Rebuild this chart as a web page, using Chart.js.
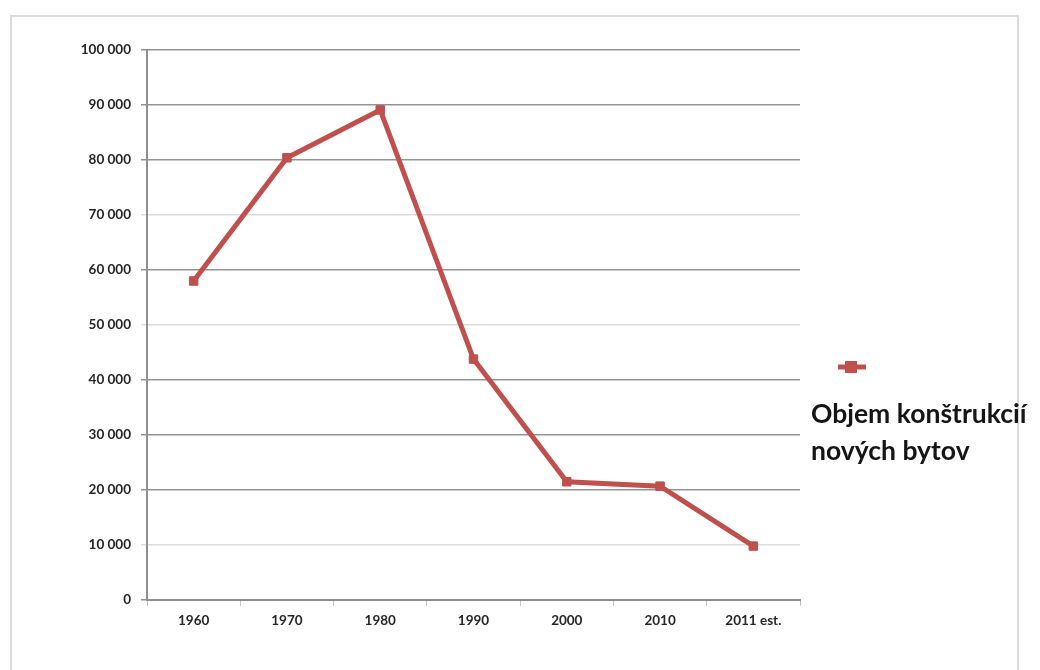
<!DOCTYPE html>
<html>
<head>
<meta charset="utf-8">
<script src="https://cdn.jsdelivr.net/npm/chart.js@4/dist/chart.umd.min.js"></script>
<style>
  html, body { margin: 0; padding: 0; background: #ffffff; }
  #wrap { position: relative; width: 1040px; height: 670px; }
  #frame {
    position: absolute; left: 10px; top: 15px; width: 1009px; height: 660px;
    border: 2px solid #dadada; box-sizing: border-box;
  }
  canvas { position: absolute; left: 0; top: 0; }
</style>
</head>
<body>
<div id="wrap">
  <div id="frame"></div>
  <canvas id="chart" width="1040" height="670"></canvas>
</div>
<script>
// Years of construction
const categories = ['1960', '1970', '1980', '1990', '2000', '2010', '2011 est.'];
// Number of newly built dwellings
const dwellings = [58000, 80400, 89100, 43800, 21500, 20700, 9800];
// Legend text, one entry per line
const seriesLabel = ['Objem konštrukcií', 'nových bytov'];
// Y-axis range and step
const yMin = 0;
const yMax = 100000;
const yStep = 10000;

const lineColor = '#c0504d';
const tickFont = { family: 'Lato, "Open Sans", sans-serif', size: 13.5, weight: 'bold' };

// Thousands with a space: 100 000
const fmt = v => String(v).replace(/\B(?=(\d{3})+(?!\d))/g, ' ');

// Legend on the right: marker line plus wrapped label
const sideLegend = {
  id: 'sideLegend',
  afterDraw(chart) {
    const ctx = chart.ctx;
    const ds = chart.data.datasets[0];
    ctx.save();
    ctx.strokeStyle = ds.borderColor;
    ctx.lineWidth = 5;
    ctx.beginPath();
    ctx.moveTo(838, 367);
    ctx.lineTo(866, 367);
    ctx.stroke();
    ctx.fillStyle = ds.pointBackgroundColor;
    ctx.fillRect(845, 361, 12, 12);
    ctx.fillStyle = '#151515';
    ctx.font = 'bold 26.5px Lato, "Open Sans", sans-serif';
    ctx.textBaseline = 'alphabetic';
    ctx.textAlign = 'left';
    seriesLabel.forEach((line, i) => ctx.fillText(line, 811, 423 + i * 37));
    ctx.restore();
  }
};

new Chart(document.getElementById('chart'), {
  type: 'line',
  data: {
    labels: categories,
    datasets: [{
      label: seriesLabel.join(' '),
      data: dwellings,
      borderColor: lineColor,
      backgroundColor: lineColor,
      pointBackgroundColor: lineColor,
      pointBorderColor: lineColor,
      borderWidth: 5,
      pointStyle: 'rect',
      pointRadius: 6,
      pointBorderWidth: 1,
      tension: 0
    }]
  },
  options: {
    responsive: false,
    animation: false,
    layout: { padding: { top: 50, right: 240, left: 0, bottom: 0 } },
    plugins: {
      legend: { display: false },
      tooltip: { enabled: false }
    },
    scales: {
      x: {
        offset: true,
        grid: {
          offset: true,
          drawOnChartArea: false,
          drawTicks: true,
          tickLength: 6,
          color: '#c4c4c4'
        },
        border: { display: true, color: '#8f8f8f', width: 2 },
        ticks: {
          color: '#262626',
          font: tickFont,
          padding: 7,
          maxRotation: 0,
          autoSkip: false
        },
        afterFit(scale) { scale.height = 70; }
      },
      y: {
        min: yMin,
        max: yMax,
        grid: {
          color: ctx => {
            const v = ctx.tick ? ctx.tick.value : 0;
            return (v === 70000 || v === 50000 || v === 10000) ? '#dcdcdc' : '#939393';
          },
          lineWidth: 1.5,
          tickLength: 6
        },
        border: { display: true, color: '#8f8f8f', width: 2 },
        ticks: {
          stepSize: yStep,
          color: '#262626',
          font: tickFont,
          padding: 10,
          callback: v => fmt(v)
        },
        afterFit(scale) { scale.width = 147; }
      }
    }
  },
  plugins: [sideLegend]
});
</script>
</body>
</html>
